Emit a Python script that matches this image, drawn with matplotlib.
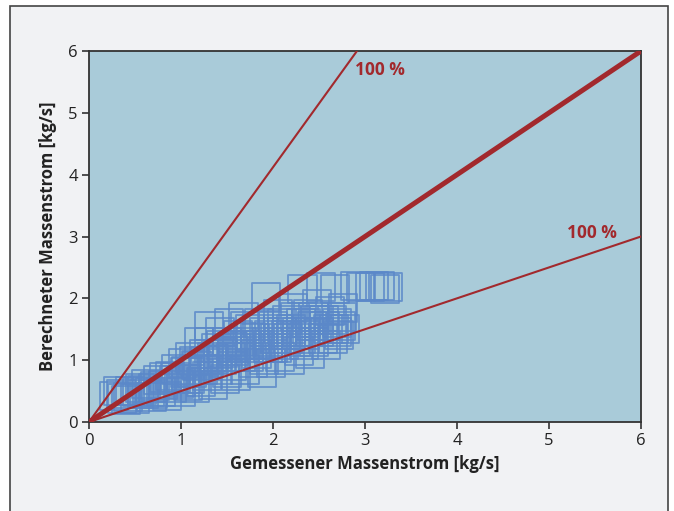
import matplotlib
matplotlib.use("Agg")
import matplotlib.pyplot as plt
from matplotlib.patches import Rectangle

plt.rcParams['font.family'] = ['Open Sans', 'DejaVu Sans']

# measured vs calculated mass flow [kg/s]
measured = [0.27, 0.35, 0.42, 0.45, 0.50, 0.55, 0.60, 0.62, 0.68, 0.70, 0.75, 0.78, 0.80, 0.85,
            0.88, 0.90, 0.95, 0.98, 1.00, 1.02, 1.05, 1.08, 1.10, 1.12, 1.15, 1.18, 1.20, 1.22,
            1.25, 1.28, 1.30, 1.30, 1.35, 1.38, 1.40, 1.42, 1.45, 1.48, 1.50, 1.52, 1.55, 1.58,
            1.60, 1.62, 1.65, 1.68, 1.70, 1.72, 1.75, 1.78, 1.80, 1.82, 1.85, 1.88, 1.90, 1.92,
            1.95, 1.98, 2.00, 2.02, 2.05, 2.08, 2.10, 2.12, 2.15, 2.18, 2.20, 2.22, 2.25, 2.28,
            2.30, 2.32, 2.35, 2.38, 2.40, 2.42, 2.45, 2.48, 2.50, 2.52, 2.55, 2.58, 2.60, 2.62,
            2.65, 2.67, 2.70, 2.72, 2.75, 2.76, 2.78, 2.89, 3.05, 3.10, 3.25, 3.22,
            0.52, 0.72, 0.92, 1.06, 1.16, 1.26, 1.36, 1.46, 1.56, 1.66, 1.76, 1.86, 1.96, 2.06,
            2.16, 2.26, 2.36, 2.46, 2.56, 2.66, 1.40, 1.60, 1.80, 2.00, 2.20, 2.40,
            0.32, 0.40, 0.58, 0.66, 0.82, 0.94, 1.04, 1.14, 1.24, 1.34, 1.44, 1.54, 1.64, 1.74,
            1.84, 1.94, 2.04, 2.14, 2.24, 2.34, 2.44, 2.54, 2.64, 2.74, 1.00, 1.30, 1.70, 2.10,
            2.50, 0.70, 1.10, 1.50, 1.90, 2.30, 2.70, 0.36, 2.96, 3.16]
calculated = [0.42, 0.45, 0.40, 0.50, 0.38, 0.55, 0.45, 0.62, 0.40, 0.55, 0.68, 0.48, 0.60, 0.42,
              0.75, 0.55, 0.85, 0.62, 0.48, 0.95, 0.70, 0.58, 1.05, 0.80, 0.55, 0.90, 1.30, 0.65,
              1.10, 0.75, 1.55, 0.95, 0.60, 1.20, 0.85, 1.45, 1.00, 0.70, 1.30, 1.60, 0.90, 1.15,
              0.75, 1.40, 1.05, 1.70, 0.85, 1.25, 1.50, 0.95, 1.35, 1.10, 1.60, 0.80, 1.45, 2.02,
              1.20, 0.95, 1.55, 1.35, 1.75, 1.05, 1.45, 1.25, 1.65, 1.00, 1.50, 1.85, 1.30, 1.15,
              1.60, 2.15, 1.40, 1.75, 1.10, 1.55, 1.30, 1.90, 1.45, 2.18, 1.65, 1.25, 1.50, 1.80,
              1.35, 2.15, 1.60, 1.40, 1.70, 1.85, 1.50, 2.20, 2.18, 2.20, 2.18, 2.15,
              0.48, 0.58, 0.68, 0.82, 0.92, 0.98, 1.02, 1.12, 1.22, 1.30, 1.38, 1.25, 1.40, 1.50,
              1.35, 1.45, 1.60, 1.65, 1.55, 1.50, 1.10, 1.20, 1.20, 1.20, 1.40, 1.45,
              0.50, 0.35, 0.52, 0.48, 0.72, 0.72, 0.80, 0.98, 0.85, 1.05, 1.25, 1.05, 1.25, 1.05,
              1.25, 1.30, 1.20, 1.40, 1.70, 1.25, 1.70, 1.35, 1.65, 1.55, 0.65, 1.30, 1.55, 1.60,
              1.65, 0.45, 0.70, 0.80, 1.00, 1.35, 1.45, 0.38, 2.18, 2.20]

x_ticks = [0, 1, 2, 3, 4, 5, 6]
y_ticks = [0, 1, 2, 3, 4, 5, 6]
ref_factors = [1.0, 2.06, 0.5]
line_x = [0, 6]

fig = plt.figure(figsize=(6.74, 5.11), dpi=100)
fig.patch.set_facecolor('white')
fig.patches.append(Rectangle((10/674, -0.05), 658/674, 1.05 - 6/511,
                             transform=fig.transFigure, facecolor='#f1f2f4',
                             edgecolor='#444444', linewidth=1.2, zorder=-10))

ax = fig.add_axes([89/674, 1 - 422/511, 552/674, 371/511])
ax.set_facecolor('#a9cbd9')

ax.scatter(measured, calculated, marker='s', s=410, facecolors='none',
           edgecolors='#5b88c9', linewidths=1.3, alpha=0.85, zorder=2)

ax.plot(line_x, [ref_factors[0] * v for v in line_x], color='#a2292d', linewidth=3.6,
        solid_capstyle='butt', zorder=3)
ax.plot(line_x, [ref_factors[1] * v for v in line_x], color='#a2292d', linewidth=1.5, zorder=3)
ax.plot(line_x, [ref_factors[2] * v for v in line_x], color='#a2292d', linewidth=1.5, zorder=3)

ax.text(2.89, 5.70, '100 %', color='#a2292d', fontsize=12.5, fontweight='bold',
        ha='left', va='center', zorder=4)
ax.text(5.2, 3.05, '100 %', color='#a2292d', fontsize=12.5, fontweight='bold',
        ha='left', va='center', zorder=4)

ax.set_xlim(0, 6)
ax.set_ylim(0, 6)
ax.set_xticks(x_ticks)
ax.set_yticks(y_ticks)
ax.tick_params(direction='out', length=5, width=1.2, color='#333333',
               labelsize=12, labelcolor='#222222', pad=3)
for sp in ax.spines.values():
    sp.set_color('#333333')
    sp.set_linewidth(1.3)

ax.set_xlabel('Gemessener Massenstrom [kg/s]', fontsize=12, fontweight='bold',
              color='#222222', labelpad=4)
ax.set_ylabel('Berechneter Massenstrom [kg/s]', fontsize=12, fontweight='bold',
              color='#222222', labelpad=8)

fig.savefig('out.png', dpi=100, facecolor=fig.get_facecolor())
